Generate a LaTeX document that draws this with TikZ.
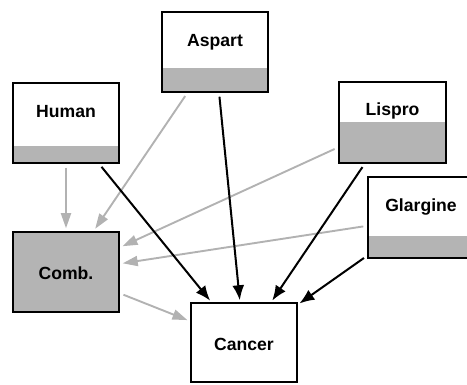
\documentclass[tikz,border=0pt]{standalone}
\usepackage{fontspec}
\setmainfont{Liberation Sans}
\usetikzlibrary{arrows.meta}
\definecolor{band}{RGB}{180,180,180}
\definecolor{lightedge}{RGB}{178,178,178}
\tikzset{
  box/.style={draw=black, line width=1.5pt, fill=white, rectangle,
    minimum width=106pt, minimum height=80pt, inner sep=0pt},
  bandbox/.style={box, path picture={
      \fill[band] ([yshift=#1]path picture bounding box.south west)
        rectangle (path picture bounding box.south east);}},
  lbl/.style={font=\bfseries\fontsize{17.6}{20}\selectfont, inner sep=0pt},
  grayarrow/.style={draw=lightedge, line width=1.9pt,
    -{Triangle[length=15pt,width=10pt]}, shorten <=4pt, shorten >=3pt},
  blackarrow/.style={draw=black, line width=2pt,
    -{Latex[length=15pt,width=12pt]}, shorten <=4pt, shorten >=2pt},
}
\begin{document}
\begin{tikzpicture}[x=1pt,y=-1pt]
  \useasboundingbox (0,0) rectangle (467,385);

  % insulin boxes, each with a grey band at the bottom
  \node[bandbox=24pt] (aspart) at (215,52) {};
  \node[bandbox=17pt] (human) at (66,123) {};
  \node[bandbox=41pt, minimum width=107pt, minimum height=81pt] (lispro) at (392.5,122.5) {};
  \node[bandbox=22pt, minimum width=107pt, minimum height=81pt] (glargine) at (421.5,217.5) {};
  \node[box, fill=band] (comb) at (66,272) {};
  \node[box, minimum height=79pt] (cancer) at (244,342.5) {};

  % box captions
  \node[lbl] (aspart-t) at (215,42) {Aspart};
  \node[lbl] (human-t) at (66,112) {Human};
  \node[lbl] (lispro-t) at (392.5,111) {Lispro};
  \node[lbl] (glargine-t) at (421,207) {Glargine};
  \node[lbl] (comb-t) at (66,273) {Comb.};
  \node[lbl] (cancer-t) at (244,344) {Cancer};

  % links into the combined group
  \draw[grayarrow] (human) -- (comb);
  \draw[grayarrow] (aspart) -- (comb);
  \draw[grayarrow] (lispro) -- (comb);
  \draw[grayarrow] (glargine) -- (comb);
  \draw[grayarrow] (comb) -- (cancer);

  % links into cancer
  \draw[blackarrow] (human) -- (cancer);
  \draw[blackarrow] (aspart) -- (cancer);
  \draw[blackarrow] (lispro) -- (cancer);
  \draw[blackarrow] (glargine) -- (cancer);
\end{tikzpicture}
\end{document}
